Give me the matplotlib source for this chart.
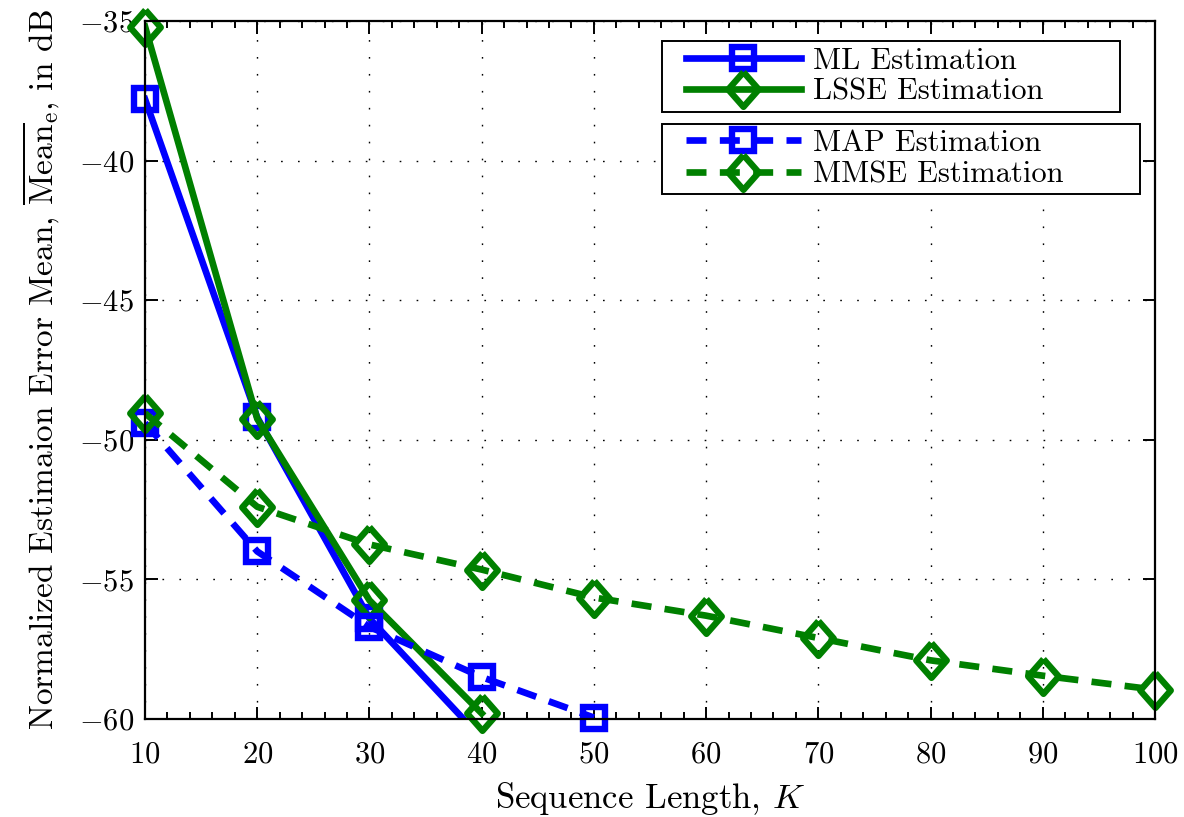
import numpy as np
import matplotlib
matplotlib.use("Agg")
import matplotlib.pyplot as plt
from matplotlib.lines import Line2D
from matplotlib.patches import Rectangle
from matplotlib.ticker import MultipleLocator

plt.rcParams['font.family'] = 'cmr10'
plt.rcParams['mathtext.fontset'] = 'cm'
plt.rcParams['axes.formatter.use_mathtext'] = True

# data
k_ml = [10, 20, 30, 40]
ml = [-37.8, -49.2, -56.4, -60.7]
k_lsse = [10, 20, 30, 40]
lsse = [-35.2, -49.25, -55.75, -59.8]
k_map = [10, 20, 30, 40, 50]
map_est = [-49.4, -54.0, -56.7, -58.5, -59.95]
k_mmse = [10, 20, 30, 40, 50, 60, 70, 80, 90, 100]
mmse = [-49.05, -52.4, -53.75, -54.65, -55.65, -56.3, -57.1, -57.9, -58.45, -58.95]

x_ticks = [10, 20, 30, 40, 50, 60, 70, 80, 90, 100]
y_ticks = [-60, -55, -50, -45, -40, -35]

BLUE = '#0000ff'
GREEN = '#008000'
YMIN, YMAX = -60, -35

# slightly narrow diamond, like the reference
diamond = [(0, 1), (0.88, 0), (0, -1), (-0.88, 0), (0, 1)]

fig = plt.figure(figsize=(11.84, 8.17), dpi=100)
ax = fig.add_axes([0.1225, 0.12, 0.853, 0.8543])

lw = 4.8
sq = dict(marker='s', markersize=16.5, markeredgewidth=4.6, markerfacecolor='none')
di = dict(marker=diamond, markersize=25, markeredgewidth=4.6, markerfacecolor='none')
dash = (0, (3.0, 2.0))


def draw(x, y, color, ls, mstyle, label):
    ax.plot(x, y, color=color, lw=lw, ls=ls)
    # markers inside the y range are drawn unclipped, as in the reference
    xm = [a for a, b in zip(x, y) if b >= YMIN - 0.1]
    ym = [b for b in y if b >= YMIN - 0.1]
    ax.plot(xm, ym, ls='none', markeredgecolor=color, clip_on=False, **mstyle)
    return Line2D([], [], color=color, lw=lw, ls=ls, markeredgecolor=color, label=label, **mstyle)


h1 = draw(k_ml, ml, BLUE, '-', sq, 'ML Estimation')
h2 = draw(k_lsse, lsse, GREEN, '-', di, 'LSSE Estimation')
h3 = draw(k_map, map_est, BLUE, dash, sq, 'MAP Estimation')
h4 = draw(k_mmse, mmse, GREEN, dash, di, 'MMSE Estimation')

ax.set_xlim(10, 100)
ax.set_ylim(YMIN, YMAX)
ax.set_xticks(x_ticks)
ax.set_yticks(y_ticks)
ax.xaxis.set_minor_locator(MultipleLocator(2))
ax.tick_params(which='both', direction='in', top=True, right=True, labelsize=22, width=1.4)
ax.tick_params(which='major', length=9)
ax.tick_params(axis='x', which='major', pad=16)
ax.tick_params(axis='y', which='major', pad=8)
ax.tick_params(which='minor', length=5)
for s in ax.spines.values():
    s.set_linewidth(1.6)

ax.grid(True, which='major', color='black', lw=1.0, ls=(0, (1.2, 11)))

ax.set_xlabel(r'Sequence Length, $K$', fontsize=25, labelpad=8)
ax.set_ylabel(r'Normalized Estimaion Error Mean, $\overline{\mathrm{Mean}}_{\mathrm{e}}$, in dB',
              fontsize=24, labelpad=12)

# legends: content without frame, boxes drawn as rectangles (reference boxes have
# extra room on the right)
leg_kw = dict(fontsize=22, frameon=False, handlelength=3.75, handletextpad=0.42,
              labelspacing=0.12, borderpad=0, borderaxespad=0)
leg1 = ax.legend(handles=[h1, h2], loc='center left', bbox_to_anchor=(0.5356, 0.9205), **leg_kw)
ax.add_artist(leg1)
leg2 = ax.legend(handles=[h3, h4], loc='center left', bbox_to_anchor=(0.5356, 0.8023), **leg_kw)

boxes = [(0.5119, 0.8696, 0.4534, 0.1017), (0.5119, 0.7521, 0.4732, 0.1003)]
for bx, by, bw, bh in boxes:
    ax.add_patch(Rectangle((bx, by), bw, bh, transform=ax.transAxes, facecolor='white',
                           edgecolor='black', lw=1.4, zorder=4.5))

fig.savefig('out.png', dpi=100)
